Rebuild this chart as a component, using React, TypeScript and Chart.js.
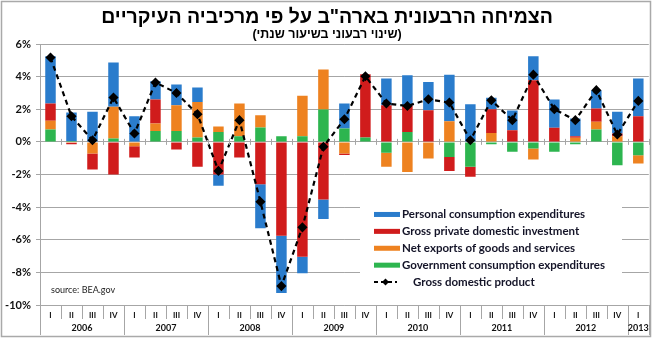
import React, { useEffect, useRef } from 'react';
import { Chart, registerables } from 'chart.js';
Chart.register(...registerables);

const quarters = ['I','II','III','IV','I','II','III','IV','I','II','III','IV','I','II','III','IV','I','II','III','IV','I','II','III','IV','I','II','III','IV','I'];
const years = ['2006','2007','2008','2009','2010','2011','2012','2013'];
const quartersPerYear = [4,4,4,4,4,4,4,1];

const gov = [0.76,0.05,0,0.2,0,0.67,0.67,0.27,0.6,0.35,0.88,0.35,0.35,1.98,0.82,0.27,-0.67,0.61,0,-0.92,-1.53,-0.14,-0.61,-0.41,-0.61,-0.14,0.76,-1.43,-0.82];
const netExports = [0.53,-0.05,-0.71,1.95,-0.27,0.46,1.58,2.18,0.35,2.0,0.75,0,2.47,2.45,-0.71,0,-0.86,-1.84,-1.02,1.27,0,0.55,0,-0.67,0,0.25,0.47,0.35,-0.51];
const investment = [1.06,-0.1,-0.98,-2.0,-0.69,1.47,-0.47,-1.53,-2.0,-0.96,-2.6,-5.76,-7.04,-3.53,-0.1,3.88,2.25,1.64,1.94,-0.86,-0.61,1.45,0.71,3.78,0.86,0.1,0.81,0.16,1.57];
const consumption = [2.9,1.75,1.84,2.72,1.57,1.12,1.26,0.88,-0.69,0,-2.7,-3.5,-1.02,-1.2,1.53,0,1.63,1.84,1.73,2.85,2.31,0.71,1.22,1.47,1.74,1.08,1.13,1.33,2.31];
const gdp = [5.17,1.57,0.1,2.72,0.51,3.64,3.0,1.7,-1.78,1.33,-3.67,-8.84,-5.24,-0.3,1.39,4.02,2.35,2.2,2.61,2.41,0.1,2.55,1.33,4.12,2.0,1.33,3.17,0.45,2.51];

const yMin = -10;
const yMax = 6;
const yStep = 2;

const titleText = 'הצמיחה הרבעונית בארה"ב על פי מרכיביה העיקריים';
const subtitleText = '(שינוי רבעוני בשיעור שנתי)';
const sourceText = 'source: BEA.gov';

const names = {
  pce: 'Personal consumption expenditures',
  gpdi: 'Gross private domestic investment',
  nx: 'Net exports of goods and services',
  gov: 'Government consumption expenditures',
  gdp: 'Gross domestic product',
};

const COLORS = {
  pce: '#2a7ccc',
  gpdi: '#d01c1c',
  nx: '#ee8220',
  gov: '#2db54f',
};

const GRID = '#a6a6a6';
const FONT = 'Lato, "Open Sans", sans-serif';

const decor = {
  id: 'decor',
  beforeDraw(chart: any) {
    const ctx = chart.ctx;
    ctx.save();
    ctx.fillStyle = '#ffffff';
    ctx.fillRect(0, 0, chart.width, chart.height);
    ctx.restore();
  },
  afterDraw(chart: any) {
    const ctx = chart.ctx;
    const ca = chart.chartArea;
    const xs = chart.scales.x;
    const ys = chart.scales.y;
    const n = quarters.length;
    const step = (ca.right - ca.left) / n;
    ctx.save();

    // outer border
    ctx.strokeStyle = '#a9a9a9';
    ctx.lineWidth = 1.5;
    ctx.strokeRect(1.5, 1.5, 649, 335);

    // title
    ctx.fillStyle = '#000';
    ctx.textAlign = 'center';
    ctx.textBaseline = 'middle';
    ctx.direction = 'rtl';
    ctx.font = 'bold 19.5px "Liberation Sans", Arial, sans-serif';
    ctx.fillText(titleText, 327, 18);
    ctx.font = 'bold 12.5px "Liberation Sans", Arial, sans-serif';
    ctx.fillText(subtitleText, 327, 35);
    ctx.direction = 'ltr';

    // zero line tick marks
    const y0 = ys.getPixelForValue(0);
    ctx.strokeStyle = GRID;
    ctx.lineWidth = 1;
    for (let i = 0; i <= n; i++) {
      const bx = Math.round(ca.left + i * step) + 0.5;
      ctx.beginPath();
      ctx.moveTo(bx, y0 - 3);
      ctx.lineTo(bx, y0 + 3);
      ctx.stroke();
    }

    // bottom category separators
    const yearStarts: number[] = [];
    let acc = 0;
    quartersPerYear.forEach((c) => { yearStarts.push(acc); acc += c; });
    for (let i = 0; i <= n; i++) {
      const bx = Math.round(ca.left + i * step) + 0.5;
      const isYear = yearStarts.includes(i) || i === n;
      ctx.beginPath();
      ctx.moveTo(bx, ca.bottom);
      ctx.lineTo(bx, ca.bottom + (isYear ? 30 : 14));
      ctx.stroke();
    }

    // quarter labels
    ctx.fillStyle = '#111';
    ctx.textAlign = 'center';
    ctx.textBaseline = 'middle';
    ctx.font = 'bold 8px ' + FONT;
    quarters.forEach((q, i) => {
      ctx.fillText(q, xs.getPixelForValue(i), ca.bottom + 10);
    });
    // year labels
    ctx.font = 'bold 9px ' + FONT;
    years.forEach((yr, j) => {
      const s = yearStarts[j];
      const e = s + quartersPerYear[j];
      const cx = ca.left + ((s + e) / 2) * step;
      ctx.fillText(yr, cx, ca.bottom + 23);
    });

    // source
    ctx.textAlign = 'left';
    ctx.font = '9px ' + FONT;
    ctx.fillStyle = '#222';
    ctx.fillText(sourceText, ca.left + 11, ys.getPixelForValue(-9.1));

    // legend box
    const lx = ca.left + 320;
    const lw = 262;
    const ly = ys.getPixelForValue(-2.7);
    const lh = 108;
    ctx.fillStyle = '#ffffff';
    ctx.fillRect(lx, ly, lw, lh);

    const items = [
      { t: names.pce, c: COLORS.pce },
      { t: names.gpdi, c: COLORS.gpdi },
      { t: names.nx, c: COLORS.nx },
      { t: names.gov, c: COLORS.gov },
    ];
    const sx = ca.left + 334;
    const firstY = ys.getPixelForValue(-4.45);
    const gap = 16.9;
    ctx.font = 'bold 11.5px ' + FONT;
    ctx.textBaseline = 'middle';
    items.forEach((it, i) => {
      const iy = firstY + i * gap;
      ctx.fillStyle = it.c;
      ctx.fillRect(sx, iy - 2.5, 26, 5);
      ctx.fillStyle = '#141428';
      ctx.fillText(it.t, sx + 28, iy);
    });
    const gy = firstY + 4 * gap;
    ctx.strokeStyle = '#000';
    ctx.lineWidth = 2;
    ctx.setLineDash([4, 3]);
    ctx.beginPath();
    ctx.moveTo(sx, gy);
    ctx.lineTo(sx + 23, gy);
    ctx.stroke();
    ctx.setLineDash([]);
    ctx.fillStyle = '#000';
    ctx.beginPath();
    ctx.moveTo(sx + 11.5, gy - 3.5);
    ctx.lineTo(sx + 15, gy);
    ctx.lineTo(sx + 11.5, gy + 3.5);
    ctx.lineTo(sx + 8, gy);
    ctx.closePath();
    ctx.fill();
    ctx.fillStyle = '#141428';
    ctx.fillText(names.gdp, sx + 39, gy);

    ctx.restore();
  },
};

export default function App() {
  const ref = useRef<HTMLCanvasElement | null>(null);
  useEffect(() => {
    if (!ref.current) return;
    const barCommon = { stack: 'a', categoryPercentage: 1, barPercentage: 0.5, borderWidth: 0, order: 2, yAxisID: 'y' };
    const chart = new Chart(ref.current, {
      type: 'bar',
      data: {
        labels: quarters.map((q, i) => q + i),
        datasets: [
          { ...barCommon, label: names.gov, data: gov, backgroundColor: COLORS.gov } as any,
          { ...barCommon, label: names.nx, data: netExports, backgroundColor: COLORS.nx } as any,
          { ...barCommon, label: names.gpdi, data: investment, backgroundColor: COLORS.gpdi } as any,
          { ...barCommon, label: names.pce, data: consumption, backgroundColor: COLORS.pce } as any,
          {
            type: 'line',
            label: names.gdp,
            data: gdp,
            yAxisID: 'y2',
            order: 0,
            borderColor: '#000',
            borderWidth: 2.2,
            borderDash: [5, 4],
            pointStyle: 'rectRot',
            pointRadius: 3.5,
            pointBackgroundColor: '#000',
            pointBorderColor: '#000',
            tension: 0,
            fill: false,
          } as any,
        ],
      },
      options: {
        responsive: false,
        animation: false,
        devicePixelRatio: 1,
        layout: { padding: { left: 0, right: 6, top: 44, bottom: 35 } },
        plugins: { legend: { display: false }, tooltip: { enabled: false }, title: { display: false } },
        scales: {
          x: { display: false, stacked: true, offset: true },
          y: {
            stacked: true,
            min: yMin,
            max: yMax,
            afterFit: (s: any) => { s.width = 40; },
            ticks: {
              stepSize: yStep,
              callback: (v: any) => v + '%',
              font: { family: FONT, weight: 'bold', size: 11 },
              color: '#111',
              padding: 5,
            },
            grid: { color: GRID, lineWidth: 1, tickLength: 4 },
            border: { display: true, color: GRID, width: 1 },
          },
          y2: { display: false, min: yMin, max: yMax },
        },
      } as any,
      plugins: [decor],
    });
    return () => chart.destroy();
  }, []);
  return (
    <div style={{ position: 'absolute', left: 0, top: 0, width: 655, height: 340 }}>
      <canvas ref={ref} width={655} height={340} style={{ width: 655, height: 340 }} />
    </div>
  );
}
